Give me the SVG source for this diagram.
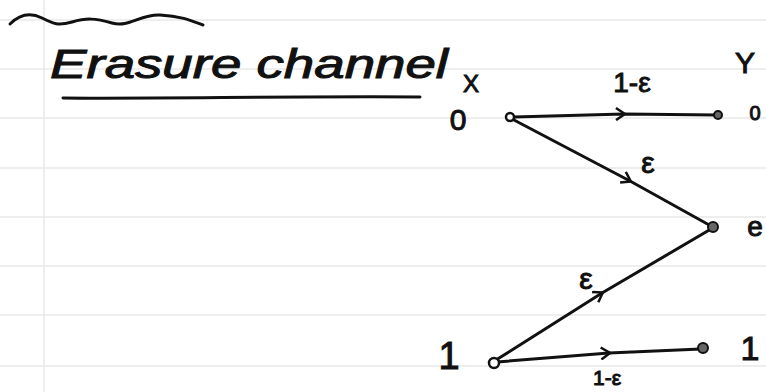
<svg xmlns="http://www.w3.org/2000/svg" width="766" height="392" viewBox="0 0 766 392">
  <style>
    .rule { stroke: #e9e9e9; stroke-width: 1.5; }
    .ink { fill: none; stroke: #111; stroke-width: 3; stroke-linecap: round; stroke-linejoin: round; }
    .edge { fill: none; stroke: #111; stroke-width: 3; stroke-linecap: round; marker-mid: url(#chev); }
    .lbl { font-family: "Liberation Sans", "DejaVu Sans", sans-serif; fill: #111; stroke: #111; stroke-width: 1; text-anchor: middle; }
    .src { fill: #fff; stroke: #111; stroke-width: 2.5; }
    .dst { fill: #666; stroke: #111; stroke-width: 2; }
  </style>
  <defs>
    <marker id="chev" viewBox="0 0 14 14" refX="9" refY="7" markerWidth="14" markerHeight="14" markerUnits="userSpaceOnUse" orient="auto">
      <path d="M1,1 L10,7 L1,13" fill="none" stroke="#111" stroke-width="2.5" stroke-linejoin="round"/>
    </marker>
  </defs>
  <rect width="766" height="392" fill="#ffffff"/>
  <g id="paper">
    <line class="rule" x1="0" y1="20" x2="766" y2="20"/>
    <line class="rule" x1="0" y1="69" x2="766" y2="69"/>
    <line class="rule" x1="0" y1="118" x2="766" y2="118"/>
    <line class="rule" x1="0" y1="168" x2="766" y2="168"/>
    <line class="rule" x1="0" y1="217" x2="766" y2="217"/>
    <line class="rule" x1="0" y1="266" x2="766" y2="266"/>
    <line class="rule" x1="0" y1="315" x2="766" y2="315"/>
    <line class="rule" x1="0" y1="366" x2="766" y2="366"/>
    <line class="rule" x1="44" y1="0" x2="44" y2="392"/>
  </g>
  <g id="title">
    <path class="ink" d="M10,24 C20,14 30,12 42,18 S58,26 72,22 S95,18 112,23 S140,14 160,15 S190,20 203,25"/>
    <text class="lbl" x="249" y="78" font-size="40" font-style="italic" textLength="398" lengthAdjust="spacingAndGlyphs">Erasure channel</text>
    <path class="ink" d="M63,98 C150,99 300,96 420,97"/>
  </g>
  <g id="connectors">
    <path class="edge" d="M514,117 L624,114 L716,115"/>
    <path class="edge" d="M514,120 L630,181 L711,226"/>
    <path class="edge" d="M496,360 L602,293 L711,229"/>
    <path class="edge" d="M497,362 L609,353 L701,349"/>
  </g>
  <g id="x0">
    <circle class="src" cx="510" cy="117" r="4"/>
    <text class="lbl" x="458" y="130" font-size="30">0</text>
    <text class="lbl" x="471" y="92" font-size="24">X</text>
  </g>
  <g id="x1">
    <circle class="src" cx="494" cy="363" r="5"/>
    <text class="lbl" x="449" y="369" font-size="38">1</text>
  </g>
  <g id="y0">
    <circle class="dst" cx="718" cy="115" r="4"/>
    <text class="lbl" x="755" y="120" font-size="20">0</text>
    <text class="lbl" x="745" y="73" font-size="30">Y</text>
  </g>
  <g id="ye">
    <circle class="dst" cx="713" cy="227" r="5"/>
    <text class="lbl" x="755" y="236" font-size="28">e</text>
  </g>
  <g id="y1">
    <circle class="dst" cx="703" cy="348" r="5"/>
    <text class="lbl" x="750" y="360" font-size="34">1</text>
  </g>
  <g id="labels">
    <text class="lbl" x="632" y="92" font-size="28">1-ε</text>
    <text class="lbl" x="648" y="173" font-size="30">ε</text>
    <text class="lbl" x="586" y="289" font-size="30">ε</text>
    <text class="lbl" x="607" y="385" font-size="21">1-ε</text>
  </g>
</svg>
